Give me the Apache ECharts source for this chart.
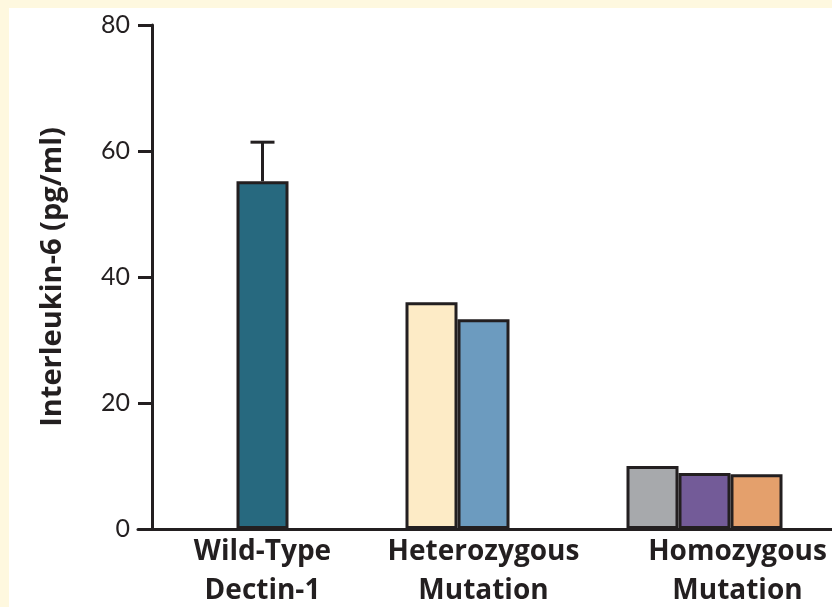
<!DOCTYPE html>
<html>
<head>
<meta charset="utf-8">
<script src="https://cdn.jsdelivr.net/npm/echarts@6/dist/echarts.min.js"></script>
<style>
  html, body { margin: 0; padding: 0; background: #FEF8DF; overflow: hidden; }
  #chart { position: absolute; left: 9px; top: 8px; width: 823px; height: 599px; background: #ffffff; }
</style>
</head>
<body>
<div id="chart"></div>
<script>
// data
const categories = ['Wild-Type\nDectin-1', 'Heterozygous\nMutation', 'Homozygous\nMutation'];
const wildType = [55.2];
const wildTypeUpper = [61.4];   // top of error bar
const heterozygous = [36.0, 33.3];
const homozygous = [10.0, 8.9, 8.7];

const wildColors = ['#27697F'];
const hetColors = ['#FDEBC6', '#6C9BBF'];
const homoColors = ['#A7A9AC', '#735B98', '#E4A06C'];

const ink = '#231F20';
const labelFont = 'Open Sans';
const tickFont = 'Lato';

// each group sits in 3 bar slots; wild type uses the middle one
const groups = [
  { values: wildType, colors: wildColors, start: 1 },
  { values: heterozygous, colors: hetColors, start: 0 },
  { values: homozygous, colors: homoColors, start: 0 }
];

const slotSeries = [0, 1, 2].map(function (slot) {
  const data = groups.map(function (g) {
    const i = slot - g.start;
    if (i < 0 || i >= g.values.length) return '-';
    return { value: g.values[i], itemStyle: { color: g.colors[i] } };
  });
  return {
    type: 'bar',
    xAxisIndex: 1,
    yAxisIndex: 0,
    barWidth: 52,
    barGap: '0%',
    data: data,
    itemStyle: { borderColor: ink, borderWidth: 3 },
    emphasis: { disabled: true }
  };
});

const errorSeries = {
  type: 'custom',
  xAxisIndex: 1,
  yAxisIndex: 0,
  z: 5,
  data: wildType.map(function (v, i) { return [i, v, wildTypeUpper[i]]; }),
  renderItem: function (params, api) {
    const base = api.coord([api.value(0), api.value(1)]);
    const top = api.coord([api.value(0), api.value(2)]);
    const style = { stroke: ink, lineWidth: 3 };
    return {
      type: 'group',
      children: [
        { type: 'line', shape: { x1: base[0], y1: base[1], x2: top[0], y2: top[1] }, style: style },
        { type: 'line', shape: { x1: top[0] - 12, y1: top[1], x2: top[0] + 12, y2: top[1] }, style: style }
      ]
    };
  }
};

const chart = echarts.init(document.getElementById('chart'));
chart.setOption({
  animation: false,
  grid: [
    { left: 129, right: 0, top: 17, bottom: 78, outerBoundsMode: 'none' },   // long baseline
    { left: 143, right: 17, top: 17, bottom: 78, outerBoundsMode: 'none' }   // bars
  ],
  xAxis: [
    {
      gridIndex: 0, type: 'category', data: [''],
      axisLine: { lineStyle: { color: ink, width: 3 } },
      axisTick: { show: false }, axisLabel: { show: false }
    },
    {
      gridIndex: 1, type: 'category', data: categories,
      axisLine: { show: false }, axisTick: { show: false },
      axisLabel: {
        interval: 0,
        hideOverlap: false,
        margin: 4,
        color: ink,
        fontFamily: labelFont,
        fontSize: 28,
        fontWeight: 'bold',
        lineHeight: 39,
        formatter: function (v, i) {
          return i === 2 ? '{shift|' + v + '}' : v;
        },
        rich: {
          shift: { padding: [0, 0, 0, 66], fontFamily: labelFont, fontSize: 28, fontWeight: 'bold', lineHeight: 39, color: ink }
        }
      }
    }
  ],
  yAxis: [
    {
      gridIndex: 1, type: 'value', min: 0, max: 80, interval: 20,
      name: 'Interleukin-6 (pg/ml)',
      nameLocation: 'middle',
      nameGap: 85,
      nameTextStyle: { color: ink, fontFamily: labelFont, fontSize: 29, fontWeight: 'bold' },
      axisLine: { show: true, lineStyle: { color: ink, width: 3 } },
      axisTick: { show: true, length: 14, lineStyle: { color: ink, width: 3 } },
      axisLabel: { margin: 22, color: ink, fontFamily: tickFont, fontSize: 25 },
      splitLine: { show: false }
    },
    {
      gridIndex: 0, type: 'value', min: 0, max: 80, show: false
    }
  ],
  series: slotSeries.concat([errorSeries])
});
</script>
</body>
</html>
